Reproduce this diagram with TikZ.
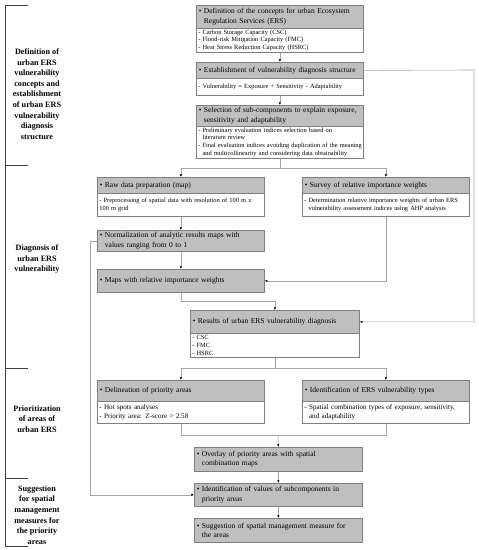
\documentclass[tikz,border=0pt]{standalone}
\usepackage{fontspec}
\setmainfont{Liberation Serif}
\usetikzlibrary{arrows.meta}
\definecolor{ershead}{HTML}{BFBFBF}
\definecolor{ersedge}{HTML}{7F7F7F}
\definecolor{erslink}{HTML}{A6A6A6}
\definecolor{ersbrace}{HTML}{404040}
\newcommand{\hdrfont}{\fontsize{7.5}{9.5}\selectfont}
\newcommand{\bodyfont}{\fontsize{6.4}{7.8}\selectfont}
\newcommand{\bodyfontL}{\fontsize{7.1}{8.4}\selectfont}
\newcommand{\stagefont}{\fontsize{8.2}{10.6}\selectfont\bfseries}
\newcommand{\hind}{\hphantom{•\ }}
\newcommand{\bind}{\hphantom{-\ }}
\tikzset{
  hdr/.style={draw=ersedge,line width=0.7pt,fill=ershead,anchor=north west,
    inner xsep=2.5pt,inner ysep=0pt,align=left,font=\hdrfont},
  bdy/.style={draw=ersedge,line width=0.7pt,fill=white,anchor=north west,
    inner xsep=2pt,inner ysep=0pt,align=left},
  flow/.style={erslink,line width=0.6pt,-{Latex[length=2.6pt,width=2.4pt,color=black]}},
  link/.style={erslink,line width=0.6pt},
  stage/.style={align=center,inner sep=0pt,font=\stagefont},
}
\newcommand{\onebox}[6]{% name, x, y, width, height, text
  \pgfmathsetmacro{\tw}{#4-5}%
  \node[hdr,text width=\tw pt,minimum width=#4pt,minimum height=#5pt] (#1) at (#2,#3) {#6};
}
\newcommand{\twobox}[9]{% name, x, y, width, head h, body h, body font, head, body
  \pgfmathsetmacro{\tw}{#4-5}%
  \pgfmathsetmacro{\bw}{#4-4}%
  \node[hdr,text width=\tw pt,minimum width=#4pt,minimum height=#5pt] (#1h) at (#2,#3) {#8};
  \node[bdy,text width=\bw pt,minimum width=#4pt,minimum height=#6pt,font=#7] (#1b) at (#2,#3+#5) {#9};
}

\begin{document}
\begin{tikzpicture}[x=1pt,y=-1pt]
  \useasboundingbox (0,0) rectangle (479,550);

  % stages on the left
  \draw[ersbrace,line width=0.9pt] (28,5) -- (5,5) -- (5,546) -- (28,546);
  \foreach \yy in {165,368,478}
    \draw[ersbrace,line width=0.9pt] (5,\yy) -- (28,\yy);
  \node[stage] (lab1) at (37,94) {Definition of\\urban ERS\\vulnerability\\concepts and\\establishment\\of urban ERS\\vulnerability\\diagnosis\\structure};
  \node[stage] (lab2) at (37,259) {Diagnosis of\\urban ERS\\vulnerability};
  \node[stage] (lab3) at (37,419) {Prioritization\\of areas of\\urban ERS};
  \node[stage] (lab4) at (37,515) {Suggestion\\for spatial\\management\\measures for\\the priority\\areas};

  % boxes
  \twobox{b1}{196}{5}{167}{23}{24}{\bodyfont}
    {• Definition of the\ concepts for urban Ecosystem\\\hind Regulation Services (ERS)}
    {- Carbon Storage Capacity (CSC)\\- Flood-risk Mitigation Capacity (FMC)\\- Heat Stress Reduction Capacity (HSRC)}
  \twobox{b2}{196}{62}{167}{16}{17}{\bodyfont}
    {• Establishment of vulnerability diagnosis structure}
    {- Vulnerability = Exposure + Sensitivity - Adaptability}
  \twobox{b3}{196}{105}{167}{21}{32}{\bodyfont}
    {\mbox{• Selection of sub-components to explain exposure,}\\\hind sensitivity and adaptability}
    {- Preliminary evaluation indices selection based on\\\bind literature review\\\mbox{- Final evaluation indices avoiding duplication of the meaning}\\\bind and multicollinearity and considering data obtainability}
  \twobox{raw}{97}{177}{167}{16}{23}{\bodyfont}
    {• Raw data preparation (map)}
    {\mbox{- Preprocessing of spatial data with resolution of 100 m x}\\100 m grid}
  \twobox{surv}{302}{177}{167}{16}{23}{\bodyfont}
    {• Survey of relative importance weights}
    {\mbox{- Determination relative importance weights of urban ERS}\\\bind vulnerability assessment indices using AHP analysis}
  \onebox{norm}{97}{230}{167}{21}
    {• Normalization of analytic results maps with\\\hind values ranging from 0 to 1}
  \onebox{maps}{97}{269}{167}{23}
    {• Maps with relative importance weights}
  \twobox{res}{190}{310}{169}{23}{24}{\bodyfont}
    {• Results of urban ERS vulnerability diagnosis}
    {- CSC\\- FMC\\- HSRC}
  \twobox{del}{97}{380}{167}{21}{22}{\bodyfontL}
    {• Delineation of priority areas}
    {- Hot spots analyses\\- Priority area: Z-score > 2.58}
  \twobox{idt}{302}{380}{167}{21}{22}{\bodyfontL}
    {• Identification of ERS vulnerability types}
    {\mbox{- Spatial combination types of exposure, sensitivity,}\\\bind and adaptability}
  \onebox{overlay}{194}{447}{168}{24}
    {• Overlay of priority areas with spatial\\\hind combination maps}
  \onebox{idval}{194}{483}{168}{23}
    {• Identification of values of subcomponents in\\\hind priority areas}
  \onebox{sugg}{194}{518}{168}{24}
    {• Suggestion of spatial management measure for\\\hind the areas}

  % connectors
  \coordinate (rt) at (474,70);
  \coordinate (mrg) at (278,435);
  \draw[flow] (b1b.south) -- (b2h.north);
  \draw[flow] (b2b.south) -- (b3h.north);
  \draw[flow] (b2h.east) -- (rt) |- (resh.east);
  \draw[flow] (b3b.south) -- ++(0,10) -| (rawh.north);
  \draw[flow] (b3b.south) -- ++(0,10) -| (survh.north);
  \draw[flow] (rawb.south) -- (norm.north);
  \draw[flow] (norm.south) -- (maps.north);
  \draw[flow] (survb.south) |- (maps.east);
  \draw[flow] (maps.south) -- ++(0,9) -| (resh.north);
  \draw[flow] (norm.west) -- ++(-7,0) |- (idval.west);
  \draw[flow] (resb.south) -- ++(0,11) -| (delh.north);
  \draw[flow] (resb.south) -- ++(0,11) -| (idth.north);
  \draw[link] (delb.south) |- (mrg);
  \draw[link] (idtb.south) |- (mrg);
  \draw[flow] (mrg) -- (overlay.north);
  \draw[flow] (overlay.south) -- (idval.north);
  \draw[flow] (idval.south) -- (sugg.north);
\end{tikzpicture}
\end{document}
